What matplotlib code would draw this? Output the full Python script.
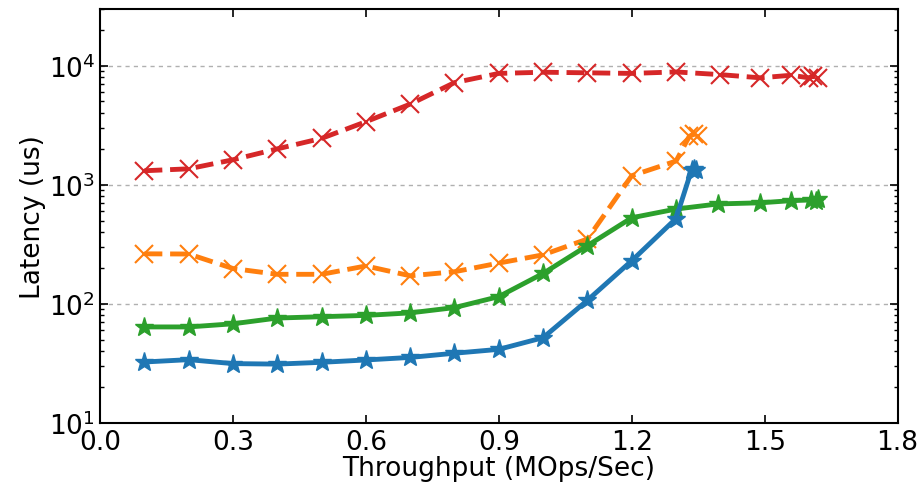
import matplotlib
matplotlib.use('Agg')
import matplotlib.pyplot as plt

# throughput (MOps/Sec) and latency (us) per series
blue_x = [0.1, 0.2, 0.3, 0.4, 0.5, 0.6, 0.7, 0.8, 0.9, 1.0, 1.1, 1.2, 1.3, 1.335, 1.34, 1.345]
blue_y = [32.5, 34, 31.5, 31.2, 32.3, 33.8, 35.5, 38.5, 41.5, 52, 107, 230, 520, 1330, 1350, 1320]

green_x = [0.1, 0.2, 0.3, 0.4, 0.5, 0.6, 0.7, 0.8, 0.9, 1.0, 1.1, 1.2, 1.3, 1.395, 1.49, 1.56, 1.605, 1.615, 1.62]
green_y = [64, 64, 68, 76, 78, 80, 84, 93, 115, 180, 308, 528, 625, 690, 705, 735, 745, 725, 765]

orange_x = [0.1, 0.2, 0.3, 0.4, 0.5, 0.6, 0.7, 0.8, 0.9, 1.0, 1.1, 1.2, 1.3, 1.33, 1.34, 1.35]
orange_y = [263, 262, 198, 177, 177, 208, 172, 186, 220, 258, 350, 1190, 1580, 2550, 2650, 2580]

red_x = [0.1, 0.2, 0.3, 0.4, 0.5, 0.6, 0.7, 0.8, 0.9, 1.0, 1.1, 1.2, 1.3, 1.4, 1.49, 1.56, 1.6, 1.61, 1.62]
red_y = [1310, 1360, 1620, 2000, 2450, 3380, 4750, 7200, 8600, 8800, 8700, 8600, 8850, 8400, 7900, 8300, 7900, 8200, 7800]

fig = plt.figure(figsize=(9.22, 4.89), dpi=100)
ax = fig.add_axes([0.1085, 0.133, 0.865, 0.847])

ax.plot(red_x, red_y, color='tab:red', linestyle='--', linewidth=3.5, marker='x', markersize=13, markeredgewidth=1.5)
ax.plot(orange_x, orange_y, color='tab:orange', linestyle='--', linewidth=3.5, marker='x', markersize=13, markeredgewidth=1.5)
ax.plot(green_x, green_y, color='tab:green', linestyle='-', linewidth=3.5, marker='*', markersize=14)
ax.plot(blue_x, blue_y, color='tab:blue', linestyle='-', linewidth=3.5, marker='*', markersize=14)

ax.set_yscale('log')
ax.set_ylim(10, 30000)
ax.set_xlim(0, 1.8)
ax.set_xticks([0.0, 0.3, 0.6, 0.9, 1.2, 1.5, 1.8])
ax.set_xticklabels(['0.0', '0.3', '0.6', '0.9', '1.2', '1.5', '1.8'])
ax.tick_params(which='both', direction='in', top=True, right=True, labelsize=19)
ax.tick_params(which='major', length=6, width=1.2)
ax.tick_params(which='minor', length=3, width=1)
ax.tick_params(axis='x', pad=4)
ax.grid(True, axis='y', which='major', linestyle=(0, (3, 3)), color='#b0b0b0', linewidth=1)

ax.set_xlabel('Throughput (MOps/Sec)', fontsize=19, labelpad=0)
ax.set_ylabel('Latency (us)', fontsize=19, labelpad=2)
for s in ax.spines.values():
    s.set_linewidth(1.5)

fig.savefig('out.png', dpi=100)
